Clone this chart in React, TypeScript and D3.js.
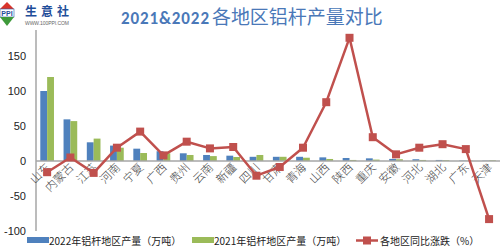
import React from "react";
import * as d3 from "d3";

const categories = ["山东","内蒙古","江苏","河南","宁夏","广西","贵州","云南","新疆","四川","甘肃","青海","山西","陕西","重庆","安徽","河北","湖北","广东","天津"];
const prod2022 = [100, 59.5, 26.7, 22, 17.6, 14, 11, 8.6, 7.6, 6, 6, 6, 5.2, 4.3, 3.8, 3, 2.5, 1.5, 0.6, 0.5];
const prod2021 = [120, 57, 32, 19, 11.4, 11, 8.6, 7, 5.7, 8.6, 6, 4.7, 2.9, 1.5, 2, 2.5, 1.5, 1.2, 0.5, 1];
const yoy = [-16, 5, -17, 19, 42, 8, 27.6, 18, 20, -21, -8.6, 19, 84, 176, 34, 9.5, 19, 24, 17, -83];
const yTicks = [-100, -50, 0, 50, 100, 150];
const seriesNames = ["2022年铝杆地区产量（万吨）", "2021年铝杆地区产量（万吨）", "各地区同比涨跌（%）"];
const colors = ["#4f81bd", "#9bbb59", "#c0504d"];

export default function App() {
  const W = 500, H = 250;
  const x = d3.scaleBand<string>().domain(categories).range([35.5, 500.7]).paddingInner(0).paddingOuter(0);
  const y = d3.scaleLinear().domain([-100, 200]).range([231, 21]);
  const sub = d3.scaleBand<string>().domain(["a", "b"]).range([0, x.bandwidth()]).paddingInner(0).paddingOuter(0.7);
  const cx = (c: string) => (x(c) as number) + x.bandwidth() / 2;
  const line = d3.line<number>().x((_, i) => cx(categories[i])).y((d) => y(d));
  const cjk = "'Noto Sans CJK SC', sans-serif";
  return (
    <div style={{ position: "absolute", left: 0, top: 0 }}>
      <svg width={W} height={H} style={{ display: "block", background: "#fff" }}>
        {/* logo */}
        <g>
          <polygon points="7,2 14,9 0,9" fill="#d9342b" />
          <rect x={0} y={9} width={14} height={8} fill="#fff" stroke="#2a5ea8" strokeWidth={0.6} />
          <text x={7} y={15.5} fontSize={7} fontWeight="bold" fill="#1f4e9a" textAnchor="middle" fontFamily="Arial, sans-serif">PPI</text>
          <polygon points="0,17 14,17 7,26" fill="#3e9a3a" />
          <text x={25} y={16} fontSize={12} fontWeight="bold" fill="#1f4e9a" fontFamily={cjk} textLength={44}>生意社</text>
          <text x={25} y={25} fontSize={5} fill="#666" fontFamily="Arial, sans-serif" textLength={44}>WWW.100PPI.COM</text>
        </g>
        {/* title */}
        <text x={121} y={24} fill="#4a78b8" fontWeight="bold">
          <tspan fontSize={17} fontFamily="Calibri, 'Liberation Sans', Arial, sans-serif" textLength={88}>2021&amp;2022</tspan>
          <tspan fontSize={19} fontWeight="normal" fontFamily={cjk} dx={2} textLength={171}>各地区铝杆产量对比</tspan>
        </text>
        {/* y axis */}
        <line x1={36} x2={36} y1={30} y2={231} stroke="#a6a6a6" strokeWidth={1.5} />
        {yTicks.map((t) => (
          <text key={t} x={26} y={y(t) + 4} fontSize={11} fill="#222" textAnchor="end" fontFamily="'Liberation Sans', Arial, sans-serif">{t}</text>
        ))}
        {/* bars */}
        {categories.map((c, i) => (
          <g key={c}>
            <rect x={(x(c) as number) + (sub("a") as number)} y={y(prod2022[i])} width={sub.bandwidth()} height={y(0) - y(prod2022[i])} fill={colors[0]} />
            <rect x={(x(c) as number) + (sub("b") as number)} y={y(prod2021[i])} width={sub.bandwidth()} height={y(0) - y(prod2021[i])} fill={colors[1]} />
          </g>
        ))}
        {/* zero line */}
        <line x1={36} x2={500} y1={y(0)} y2={y(0)} stroke="#a6a6a6" strokeWidth={1.5} />
        {/* category labels */}
        {categories.map((c) => (
          <text key={c} transform={`translate(${cx(c) + 4},${y(0) + 7}) rotate(-45)`} fontSize={11.5} fontWeight={300} fill="#444" textAnchor="end" fontFamily={cjk}>{c}</text>
        ))}
        {/* line */}
        <path d={line(yoy) || ""} fill="none" stroke={colors[2]} strokeWidth={2.5} strokeLinejoin="round" />
        {yoy.map((v, i) => (
          <rect key={i} x={cx(categories[i]) - 4} y={y(v) - 4} width={8} height={8} fill={colors[2]} />
        ))}
        {/* legend */}
        <g fontSize={10} fill="#222" fontFamily={cjk}>
          <rect x={27} y={237} width={22} height={6} fill={colors[0]} />
          <text x={49} y={244.5}>{seriesNames[0]}</text>
          <rect x={192} y={237} width={22} height={6} fill={colors[1]} />
          <text x={214} y={244.5}>{seriesNames[1]}</text>
          <line x1={356} x2={378} y1={240.5} y2={240.5} stroke={colors[2]} strokeWidth={2.5} />
          <rect x={363} y={236.5} width={8} height={8} fill={colors[2]} />
          <text x={380} y={244.5}>{seriesNames[2]}</text>
        </g>
      </svg>
    </div>
  );
}
